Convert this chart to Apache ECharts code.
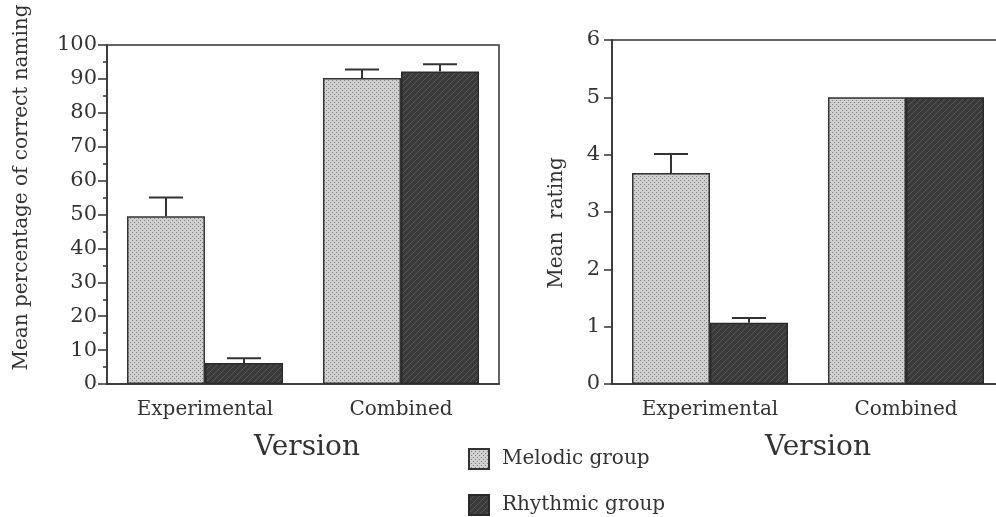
<!DOCTYPE html>
<html>
<head>
<meta charset="utf-8">
<script src="https://cdn.jsdelivr.net/npm/echarts@6/dist/echarts.min.js"></script>
<style>
html, body { margin: 0; padding: 0; background: #fff; }
#chart { width: 996px; height: 517px; }
</style>
</head>
<body>
<div id="chart"></div>
<script>
var categories = ["Experimental", "Combined"];
var groupNames = ["Melodic group", "Rhythmic group"];

// left panel: mean percentage of correct naming
var namingTicks = [0, 10, 20, 30, 40, 50, 60, 70, 80, 90, 100];
var namingMelodic = [49.5, 90.3];
var namingRhythmic = [6.2, 92.2];
var namingMelodicErr = [5.5, 2.5];
var namingRhythmicErr = [1.4, 2.1];

// right panel: mean rating
var ratingTicks = [0, 1, 2, 3, 4, 5, 6];
var ratingMelodic = [3.68, 5.0];
var ratingRhythmic = [1.07, 5.0];
var ratingMelodicErr = [0.33, 0];
var ratingRhythmicErr = [0.08, 0];

var ink = "#333";
var font = "DejaVu Serif";

// fill textures like the scanned print
function makePattern(kind) {
  var c = document.createElement("canvas");
  var g = c.getContext("2d");
  if (kind == "dots") {
    c.width = 4; c.height = 4;
    g.fillStyle = "#d0d0d0";
    g.fillRect(0, 0, 4, 4);
    g.fillStyle = "#808080";
    g.fillRect(0, 0, 1, 1);
    g.fillRect(2, 2, 1, 1);
  } else {
    c.width = 6; c.height = 6;
    g.fillStyle = "#3a3a3a";
    g.fillRect(0, 0, 6, 6);
    g.fillStyle = "#585858";
    for (var x = 0; x < 6; x++) {
      for (var y = 0; y < 6; y++) {
        if ((x + y) % 6 == 5) g.fillRect(x, y, 1, 1);
      }
    }
  }
  return { image: c, repeat: "repeat" };
}
var melodicFill = makePattern("dots");
var rhythmicFill = makePattern("hatch");

var barW = 78;

function errSeries(idx, values, errs, offset) {
  return {
    type: "custom",
    xAxisIndex: idx,
    yAxisIndex: idx,
    z: 5,
    silent: true,
    data: values.map(function (v, i) { return [i, v, v + errs[i]]; }),
    renderItem: function (params, api) {
      if (api.value(2) <= api.value(1)) return null;
      var base = api.coord([api.value(0), api.value(1)]);
      var top = api.coord([api.value(0), api.value(2)]);
      var x = base[0] + offset;
      return {
        type: "group",
        children: [
          { type: "line", shape: { x1: x, y1: base[1], x2: x, y2: top[1] }, style: { stroke: ink, lineWidth: 2 } },
          { type: "line", shape: { x1: x - 17, y1: top[1], x2: x + 17, y2: top[1] }, style: { stroke: ink, lineWidth: 2 } }
        ]
      };
    }
  };
}

function xAxis(idx, namePad) {
  return {
    type: "category",
    gridIndex: idx,
    data: categories,
    name: "Version",
    nameLocation: "middle",
    nameGap: 50,
    nameTextStyle: { fontFamily: font, fontSize: 28, color: ink, padding: namePad },
    axisLine: { lineStyle: { color: ink, width: 1.5 } },
    axisTick: { alignWithLabel: true, length: 8, lineStyle: { color: ink, width: 1.5 } },
    axisLabel: { margin: 16, fontFamily: font, fontSize: 20, color: ink }
  };
}

function legendItem(name, top) {
  return {
    orient: "vertical",
    left: 463,
    top: top,
    itemWidth: 20,
    itemHeight: 20,
    icon: "rect",
    selectedMode: false,
    textStyle: { fontFamily: font, fontSize: 20, color: ink, padding: [0, 0, 0, 8] },
    data: [name]
  };
}

var myChart = echarts.init(document.getElementById("chart"));
var option = {
  backgroundColor: "#fff",
  animation: false,
  grid: [
    { left: 107, top: 45, width: 392, height: 339, show: true, borderColor: ink, borderWidth: 1.5, outerBoundsMode: "none" },
    { left: 612, top: 40, width: 392, height: 344, show: true, borderColor: ink, borderWidth: 1.5, outerBoundsMode: "none" }
  ],
  legend: [legendItem(groupNames[0], 443), legendItem(groupNames[1], 489)],
  xAxis: [xAxis(0, [0, 0, 0, 8]), xAxis(1, [0, 0, 0, 20])],
  yAxis: [
    {
      type: "value",
      gridIndex: 0,
      min: namingTicks[0],
      max: namingTicks[namingTicks.length - 1],
      interval: namingTicks[1] - namingTicks[0],
      name: "Mean percentage of correct naming",
      nameLocation: "middle",
      nameGap: 75,
      nameTextStyle: { fontFamily: font, fontSize: 20, color: ink, padding: [0, 0, 0, 54] },
      splitLine: { show: false },
      axisLine: { show: true, lineStyle: { color: ink, width: 1.5 } },
      axisTick: { show: true, length: 9, lineStyle: { color: ink, width: 1.5 } },
      minorTick: { show: true, splitNumber: 2, length: 4, lineStyle: { color: ink, width: 1.5 } },
      axisLabel: { margin: 10, fontFamily: font, fontSize: 21, color: ink }
    },
    {
      type: "value",
      gridIndex: 1,
      min: ratingTicks[0],
      max: ratingTicks[ratingTicks.length - 1],
      interval: ratingTicks[1] - ratingTicks[0],
      name: "Mean  rating",
      nameLocation: "middle",
      nameGap: 45,
      nameTextStyle: { fontFamily: font, fontSize: 20, color: ink, padding: [0, 22, 0, 0] },
      splitLine: { show: false },
      axisLine: { show: true, lineStyle: { color: ink, width: 1.5 } },
      axisTick: { show: true, length: 8, lineStyle: { color: ink, width: 1.5 } },
      axisLabel: { margin: 12, fontFamily: font, fontSize: 21, color: ink }
    }
  ],
  series: [
    {
      name: groupNames[0], type: "bar", xAxisIndex: 0, yAxisIndex: 0,
      barWidth: barW, barGap: "0%", data: namingMelodic,
      itemStyle: { color: melodicFill, borderColor: ink, borderWidth: 1.5 }
    },
    {
      name: groupNames[1], type: "bar", xAxisIndex: 0, yAxisIndex: 0,
      barWidth: barW, barGap: "0%", data: namingRhythmic,
      itemStyle: { color: rhythmicFill, borderColor: "#2a2a2a", borderWidth: 1.5 }
    },
    {
      name: groupNames[0], type: "bar", xAxisIndex: 1, yAxisIndex: 1,
      barWidth: barW, barGap: "0%", data: ratingMelodic,
      itemStyle: { color: melodicFill, borderColor: ink, borderWidth: 1.5 }
    },
    {
      name: groupNames[1], type: "bar", xAxisIndex: 1, yAxisIndex: 1,
      barWidth: barW, barGap: "0%", data: ratingRhythmic,
      itemStyle: { color: rhythmicFill, borderColor: "#2a2a2a", borderWidth: 1.5 }
    },
    errSeries(0, namingMelodic, namingMelodicErr, -barW / 2),
    errSeries(0, namingRhythmic, namingRhythmicErr, barW / 2),
    errSeries(1, ratingMelodic, ratingMelodicErr, -barW / 2),
    errSeries(1, ratingRhythmic, ratingRhythmicErr, barW / 2)
  ]
};
myChart.setOption(option);
</script>
</body>
</html>
